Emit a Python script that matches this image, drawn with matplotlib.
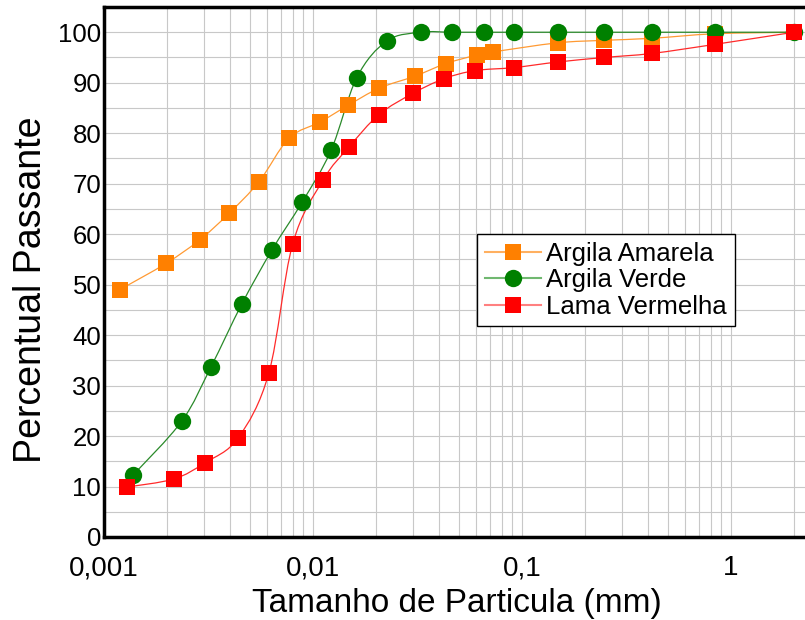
import numpy as np
import matplotlib
matplotlib.use('Agg')
import matplotlib.pyplot as plt
from matplotlib.path import Path
from matplotlib.patches import PathPatch
from matplotlib.lines import Line2D
from matplotlib.ticker import FixedLocator, FuncFormatter, MultipleLocator

plt.rcParams['font.family'] = ['Liberation Sans', 'DejaVu Sans']

# data (x in mm, y in %)
amarela_x = [0.00119, 0.00198, 0.00288, 0.00396, 0.00552, 0.00768, 0.0108, 0.0147, 0.0207,
             0.0307, 0.0433, 0.0609, 0.0727, 0.148, 0.248, 0.419, 0.838, 2.0]
amarela_y = [49.0, 54.2, 58.9, 64.1, 70.4, 79.0, 82.2, 85.5, 88.9,
             91.3, 93.8, 95.5, 96.1, 97.9, 98.4, 98.8, 99.7, 100.0]

verde_x = [0.00138, 0.00236, 0.00325, 0.00457, 0.00637, 0.00886, 0.0122, 0.0162, 0.0226,
           0.0329, 0.0463, 0.0658, 0.0916, 0.148, 0.248, 0.419, 0.838, 2.0]
verde_y = [12.3, 23.0, 33.7, 46.2, 56.9, 66.3, 76.6, 91.0, 98.3,
           100.0, 100.0, 100.0, 100.0, 100.0, 100.0, 100.0, 100.0, 100.0]

vermelha_x = [0.00129, 0.00216, 0.00304, 0.00438, 0.00615, 0.0080, 0.0112, 0.0149, 0.0207,
              0.0301, 0.0424, 0.0596, 0.0916, 0.148, 0.248, 0.419, 0.838, 2.0]
vermelha_y = [9.9, 11.5, 14.7, 19.6, 32.5, 58.1, 70.8, 77.3, 83.7,
              87.9, 90.8, 92.4, 93.0, 94.1, 95.0, 95.8, 97.6, 100.0]

labels = ['Argila Amarela', 'Argila Verde', 'Lama Vermelha']
xticks = [0.001, 0.01, 0.1, 1]


def smooth_path(xs, ys):
    # catmull-rom style bezier in (log x, y), drawn by matplotlib's own curve code
    lx = np.log10(xs)
    y = np.asarray(ys, dtype=float)
    n = len(lx)
    verts = [(xs[0], y[0])]
    codes = [Path.MOVETO]
    for i in range(n - 1):
        i0 = max(i - 1, 0)
        i3 = min(i + 2, n - 1)
        c1x = lx[i] + (lx[i + 1] - lx[i0]) / 6
        c1y = y[i] + (y[i + 1] - y[i0]) / 6
        c2x = lx[i + 1] - (lx[i3] - lx[i]) / 6
        c2y = y[i + 1] - (y[i3] - y[i]) / 6
        verts += [(10 ** c1x, c1y), (10 ** c2x, c2y), (xs[i + 1], y[i + 1])]
        codes += [Path.CURVE4] * 3
    return Path(verts, codes)


fig = plt.figure(figsize=(8.05, 6.2), dpi=100)
ax = fig.add_axes([104 / 805, 83 / 620, 1 - 104 / 805, 530 / 620])

series = [
    (amarela_x, amarela_y, 's', '#ff8000', '#ff9a33', '#ffb060', 11.5),
    (verde_x, verde_y, 'o', '#008000', '#2a8a2a', '#70b870', 12.5),
    (vermelha_x, vermelha_y, 's', '#ff0000', '#ff2a2a', '#ff8080', 11.5),
]

handles = []
for (xs, ys, mk, col, lcol, legcol, ms), lab in zip(series, labels):
    ax.add_patch(PathPatch(smooth_path(xs, ys), fill=False, edgecolor=lcol, lw=0.9, zorder=3))
    ax.plot(xs, ys, ls='none', marker=mk, ms=ms, mfc=col, mec=col, mew=0, zorder=4)
    handles.append(Line2D([], [], color=legcol, lw=1.5, marker=mk, ms=ms,
                          mfc=col, mec=col, mew=0))

ax.set_xscale('log')
ax.set_xlim(0.001, 2.26)
ax.set_ylim(0, 105)

ax.xaxis.set_major_locator(FixedLocator(xticks))
ax.xaxis.set_major_formatter(FuncFormatter(lambda v, p: ('%g' % v).replace('.', ',')))
ax.yaxis.set_major_locator(MultipleLocator(10))
ax.yaxis.set_minor_locator(MultipleLocator(5))

ax.grid(True, which='both', color='#c8c8c8', lw=0.8, zorder=0)
ax.set_axisbelow(True)

ax.tick_params(axis='both', which='both', length=0)
ax.tick_params(axis='x', labelsize=20, pad=13)
ax.tick_params(axis='y', labelsize=18.5, pad=2)

for side in ['left', 'bottom', 'top']:
    ax.spines[side].set_linewidth(2.5)
    ax.spines[side].set_color('black')
ax.spines['right'].set_visible(False)

fig.text(457 / 805, 8 / 620, 'Tamanho de Particula (mm)', fontsize=24,
         ha='center', va='baseline')
fig.text(31 / 805, 1 - 290 / 620, 'Percentual Passante', fontsize=27,
         ha='center', va='center', rotation=90)

leg = ax.legend(handles, labels, loc='upper left', bbox_to_anchor=(0.532, 0.572),
                borderaxespad=0, fontsize=18.5, frameon=True, fancybox=False,
                edgecolor='black', framealpha=1, handlelength=2.2,
                handletextpad=0.2, labelspacing=0.1, borderpad=0.3)
leg.get_frame().set_linewidth(1.0)

fig.savefig('out.png', dpi=100)
